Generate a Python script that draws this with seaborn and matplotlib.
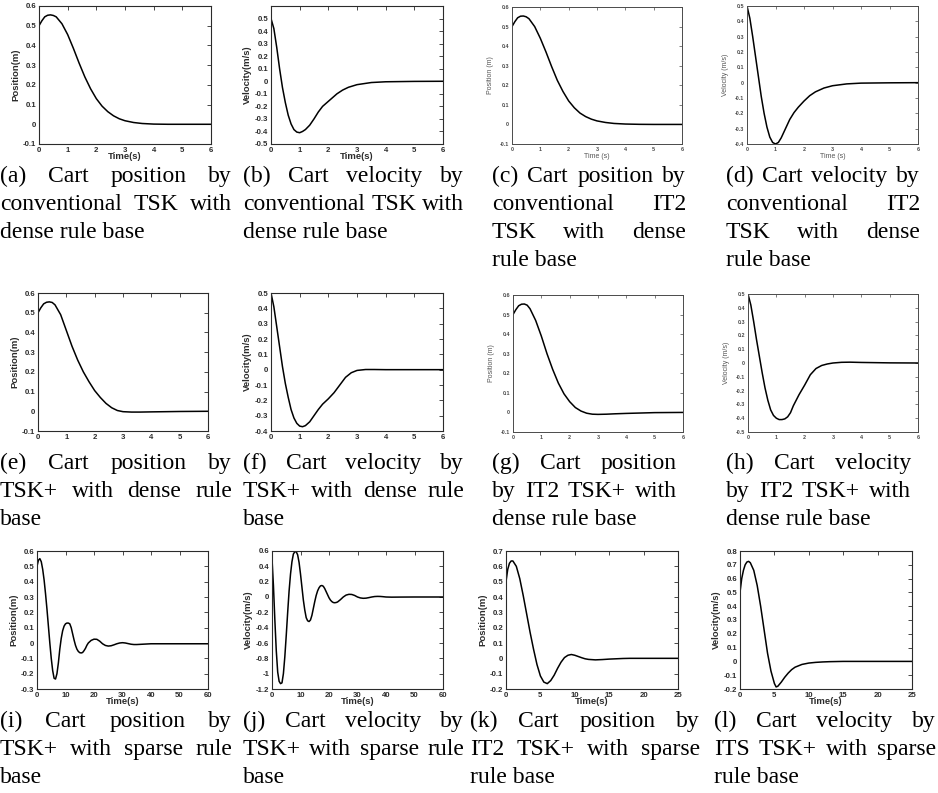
import numpy as np
import pandas as pd
import matplotlib
matplotlib.use("Agg")
import matplotlib.pyplot as plt
import seaborn as sns
from matplotlib.ticker import FuncFormatter, MultipleLocator, FixedLocator

sns.set_theme(style="white")
plt.rcParams['font.family'] = ['Liberation Sans', 'DejaVu Sans']

W, H = 938, 793

# ---------------- data ----------------
t_a = [0, 0.1, 0.2, 0.3, 0.4, 0.5, 0.6, 0.8, 1.0, 1.2, 1.4, 1.6, 1.8, 2.0, 2.2, 2.4, 2.6, 2.8, 3.0, 3.3, 3.6, 4.0, 4.5, 5, 6]
pos_a = [0.5, 0.525, 0.545, 0.553, 0.555, 0.552, 0.545, 0.51, 0.455, 0.385, 0.31, 0.24, 0.18, 0.13, 0.092, 0.064, 0.043, 0.028, 0.018, 0.009, 0.004, 0.001, 0, 0, 0]

t_b = [0, 0.1, 0.2, 0.3, 0.4, 0.5, 0.6, 0.7, 0.8, 0.9, 1.0, 1.1, 1.2, 1.35, 1.5, 1.65, 1.8, 1.95, 2.1, 2.3, 2.5, 2.7, 3.0, 3.5, 4, 5, 6]
vel_b = [0.5, 0.42, 0.27, 0.1, -0.05, -0.17, -0.27, -0.34, -0.385, -0.405, -0.41, -0.4, -0.385, -0.35, -0.3, -0.245, -0.2, -0.17, -0.14, -0.1, -0.07, -0.048, -0.027, -0.01, -0.004, -0.001, 0]

t_c = [0, 0.1, 0.2, 0.3, 0.4, 0.5, 0.6, 0.8, 1.0, 1.2, 1.4, 1.6, 1.8, 2.0, 2.2, 2.4, 2.6, 2.8, 3.0, 3.3, 3.6, 4.0, 4.5, 5, 6]
pos_c = [0.5, 0.525, 0.545, 0.553, 0.554, 0.55, 0.54, 0.5, 0.44, 0.37, 0.295, 0.225, 0.168, 0.12, 0.085, 0.058, 0.04, 0.027, 0.018, 0.01, 0.005, 0.002, 0.0005, 0, 0]

t_d = [0, 0.1, 0.2, 0.3, 0.4, 0.5, 0.6, 0.7, 0.8, 0.9, 1.0, 1.1, 1.2, 1.35, 1.5, 1.65, 1.8, 2.0, 2.2, 2.4, 2.7, 3.0, 3.5, 4, 5, 6]
vel_d = [0.5, 0.42, 0.3, 0.17, 0.04, -0.09, -0.2, -0.29, -0.355, -0.39, -0.4, -0.39, -0.36, -0.3, -0.24, -0.195, -0.16, -0.12, -0.085, -0.06, -0.035, -0.02, -0.008, -0.003, -0.001, 0]

t_e = [0, 0.1, 0.2, 0.3, 0.4, 0.5, 0.6, 0.8, 1.0, 1.2, 1.4, 1.6, 1.8, 2.0, 2.2, 2.4, 2.6, 2.8, 3.0, 3.3, 3.6, 4, 4.5, 5, 6]
pos_e = [0.5, 0.525, 0.545, 0.553, 0.555, 0.552, 0.54, 0.49, 0.41, 0.33, 0.26, 0.2, 0.15, 0.105, 0.07, 0.04, 0.018, 0.004, -0.002, -0.004, -0.004, -0.003, -0.002, -0.001, 0]

t_f = [0, 0.1, 0.2, 0.3, 0.4, 0.5, 0.6, 0.7, 0.8, 0.9, 1.0, 1.1, 1.2, 1.35, 1.5, 1.65, 1.8, 2.0, 2.2, 2.4, 2.6, 2.8, 3.0, 3.3, 3.6, 4, 5, 6]
vel_f = [0.5, 0.41, 0.28, 0.15, 0.02, -0.09, -0.18, -0.26, -0.315, -0.35, -0.368, -0.372, -0.365, -0.34, -0.3, -0.26, -0.225, -0.19, -0.15, -0.1, -0.05, -0.02, -0.005, 0.001, 0.001, 0, 0, 0]

t_g = [0, 0.1, 0.2, 0.3, 0.4, 0.5, 0.6, 0.8, 1.0, 1.2, 1.4, 1.6, 1.8, 2.0, 2.2, 2.4, 2.6, 2.8, 3.0, 3.3, 3.6, 4, 4.5, 5, 6]
pos_g = [0.5, 0.525, 0.545, 0.553, 0.554, 0.548, 0.53, 0.47, 0.39, 0.3, 0.22, 0.15, 0.095, 0.055, 0.025, 0.007, -0.004, -0.009, -0.01, -0.009, -0.007, -0.005, -0.003, -0.001, 0]

t_h = [0, 0.1, 0.2, 0.3, 0.4, 0.5, 0.6, 0.7, 0.8, 0.9, 1.0, 1.1, 1.2, 1.3, 1.4, 1.5, 1.6, 1.7, 1.8, 2.0, 2.2, 2.4, 2.6, 2.8, 3.0, 3.3, 3.6, 4, 5, 6]
vel_h = [0.5, 0.42, 0.3, 0.17, 0.05, -0.07, -0.18, -0.27, -0.34, -0.38, -0.4, -0.41, -0.41, -0.405, -0.39, -0.36, -0.31, -0.27, -0.23, -0.16, -0.085, -0.04, -0.018, -0.007, 0.0, 0.005, 0.006, 0.004, 0.001, 0]

t_i = [0, 0.5, 1, 1.5, 2, 2.5, 3, 3.5, 4, 4.5, 5, 5.5, 6, 6.5, 7, 7.5, 8, 8.5, 9, 9.5, 10, 10.5, 11, 11.5, 12, 12.5, 13, 13.5, 14, 14.5, 15, 15.5, 16, 16.5, 17, 17.5, 18, 19, 20, 21, 22, 23, 24, 25, 26, 27, 28, 29, 30, 31, 32, 33, 34, 35, 36, 38, 40, 45, 50, 55, 60]
pos_i = [0.5, 0.54, 0.55, 0.53, 0.48, 0.41, 0.32, 0.22, 0.11, 0.0, -0.1, -0.18, -0.23, -0.235, -0.2, -0.13, -0.04, 0.03, 0.08, 0.11, 0.125, 0.13, 0.13, 0.125, 0.1, 0.06, 0.02, -0.015, -0.04, -0.055, -0.063, -0.065, -0.062, -0.05, -0.035, -0.015, 0.0, 0.017, 0.025, 0.024, 0.012, -0.005, -0.016, -0.02, -0.018, -0.012, -0.005, 0.0, 0.002, 0.0, -0.004, -0.008, -0.01, -0.01, -0.009, -0.007, -0.005, -0.005, -0.005, -0.005, -0.005]

t_j = [0, 0.5, 1, 1.5, 2, 2.5, 3, 3.5, 4, 4.5, 5, 5.5, 6, 6.5, 7, 7.5, 8, 8.5, 9, 9.5, 10, 10.5, 11, 11.5, 12, 12.5, 13, 13.5, 14, 14.5, 15, 15.5, 16, 16.5, 17, 17.5, 18, 18.5, 19, 19.5, 20, 20.5, 21, 21.5, 22, 22.5, 23, 24, 25, 26, 27, 28, 29, 30, 31, 32, 33, 34, 35, 36, 37, 38, 39, 40, 42, 45, 50, 60]
vel_j = [0.5, 0.15, -0.3, -0.7, -0.98, -1.1, -1.13, -1.12, -1.0, -0.78, -0.5, -0.2, 0.08, 0.3, 0.46, 0.56, 0.59, 0.59, 0.55, 0.45, 0.3, 0.13, -0.04, -0.17, -0.27, -0.31, -0.32, -0.3, -0.24, -0.15, -0.06, 0.02, 0.08, 0.12, 0.145, 0.15, 0.14, 0.11, 0.07, 0.03, -0.01, -0.04, -0.06, -0.072, -0.075, -0.072, -0.065, -0.035, 0.0, 0.025, 0.035, 0.033, 0.02, 0.0, -0.012, -0.017, -0.015, -0.008, 0.0, 0.006, 0.008, 0.007, 0.004, 0.0, -0.002, -0.001, 0, 0]

t_k = [0, 0.25, 0.5, 0.75, 1, 1.5, 2, 2.5, 3, 3.5, 4, 4.5, 5, 5.5, 6, 6.5, 7, 7.5, 8, 8.5, 9, 9.5, 10, 10.5, 11, 11.5, 12, 13, 14, 15, 16, 17, 18, 20, 25]
pos_k = [0.5, 0.58, 0.62, 0.635, 0.635, 0.6, 0.52, 0.41, 0.29, 0.17, 0.06, -0.04, -0.115, -0.155, -0.165, -0.145, -0.11, -0.065, -0.025, 0.005, 0.02, 0.025, 0.02, 0.012, 0.004, -0.003, -0.007, -0.01, -0.008, -0.005, -0.003, -0.001, 0, 0, 0]

t_l = [0, 0.25, 0.5, 0.75, 1, 1.25, 1.5, 2, 2.5, 3, 3.5, 4, 4.5, 5, 5.25, 5.5, 6, 6.5, 7, 7.5, 8, 9, 10, 11, 12, 13, 15, 25]
vel_l = [0.5, 0.6, 0.66, 0.7, 0.72, 0.725, 0.715, 0.66, 0.55, 0.4, 0.23, 0.06, -0.07, -0.16, -0.185, -0.18, -0.15, -0.115, -0.085, -0.06, -0.042, -0.022, -0.012, -0.007, -0.004, -0.002, 0, 0]

pos_label = "Position(m)"
vel_label = "Velocity(m/s)"
pos_label_it2 = "Position (m)"
vel_label_it2 = "Velocity (m/s)"
time_label = "Time(s)"
time_label_it2 = "Time (s)"

captions = {
    'a': ["(a) Cart position by", "conventional TSK with", "dense rule base"],
    'b': ["(b) Cart velocity by", "conventional TSK with", "dense rule base"],
    'c': ["(c) Cart position by", "conventional IT2", "TSK with dense", "rule base"],
    'd': ["(d) Cart velocity by", "conventional IT2", "TSK with dense", "rule base"],
    'e': ["(e) Cart position by", "TSK+ with dense rule", "base"],
    'f': ["(f) Cart velocity by", "TSK+ with dense rule", "base"],
    'g': ["(g) Cart position", "by IT2 TSK+ with", "dense rule base"],
    'h': ["(h) Cart velocity", "by IT2 TSK+ with", "dense rule base"],
    'i': ["(i) Cart position by", "TSK+ with sparse rule", "base"],
    'j': ["(j) Cart velocity by", "TSK+ with sparse rule", "base"],
    'k': ["(k) Cart position by", "IT2 TSK+ with sparse", "rule base"],
    'l': ["(l) Cart velocity by", "ITS TSK+ with sparse", "rule base"],
}

# ---------------- layout ----------------
panels = [
    ('a', t_a, pos_a, (0, 6), 1, (-0.1, 0.6), (-0.1, 0.6, 0.1), pos_label, time_label, 'bold', (39, 6, 211, 144)),
    ('b', t_b, vel_b, (0, 6), 1, (-0.5, 0.6), (-0.5, 0.5, 0.1), vel_label, time_label, 'bold', (271, 6, 443, 144)),
    ('c', t_c, pos_c, (0, 6), 1, (-0.1, 0.6), (-0.1, 0.6, 0.1), pos_label_it2, time_label_it2, 'light', (512, 7, 682, 144)),
    ('d', t_d, vel_d, (0, 6), 1, (-0.4, 0.5), (-0.4, 0.5, 0.1), vel_label_it2, time_label_it2, 'light', (747, 6, 918, 144)),
    ('e', t_e, pos_e, (0, 6), 1, (-0.1, 0.6), (-0.1, 0.6, 0.1), pos_label, None, 'bold', (38, 293, 208, 431)),
    ('f', t_f, vel_f, (0, 6), 1, (-0.4, 0.5), (-0.4, 0.5, 0.1), vel_label, None, 'bold', (271, 293, 443, 431)),
    ('g', t_g, pos_g, (0, 6), 1, (-0.1, 0.6), (-0.1, 0.6, 0.1), pos_label_it2, None, 'light', (513, 295, 683, 432)),
    ('h', t_h, vel_h, (0, 6), 1, (-0.5, 0.5), (-0.5, 0.5, 0.1), vel_label_it2, None, 'light', (748, 294, 918, 432)),
    ('i', t_i, pos_i, (0, 60), 10, (-0.3, 0.6), (-0.3, 0.6, 0.1), pos_label, time_label, 'bold', (37, 551, 208, 689)),
    ('j', t_j, vel_j, (0, 60), 10, (-1.2, 0.6), (-1.2, 0.6, 0.2), vel_label, time_label, 'bold', (272, 551, 443, 689)),
    ('k', t_k, pos_k, (0, 25), 5, (-0.2, 0.7), (-0.2, 0.7, 0.1), pos_label, time_label, 'bold', (506, 551, 678, 689)),
    ('l', t_l, vel_l, (0, 25), 5, (-0.2, 0.8), (-0.2, 0.8, 0.1), vel_label, time_label, 'bold', (740, 551, 912, 689)),
]

caption_cols = {
    'a': (0, 232), 'b': (243, 221), 'c': (492, 194), 'd': (726, 194),
    'e': (0, 232), 'f': (243, 221), 'g': (492, 185), 'h': (726, 185),
    'i': (0, 232), 'j': (243, 221), 'k': (470, 230), 'l': (714, 222),
}
row_baselines = {
    'a': [182, 210, 238, 266], 'b': [182, 210, 238, 266], 'c': [182, 210, 238, 266], 'd': [182, 210, 238, 266],
    'e': [469, 497, 525], 'f': [469, 497, 525], 'g': [469, 497, 525], 'h': [469, 497, 525],
    'i': [727, 755, 783], 'j': [727, 755, 783], 'k': [727, 755, 783], 'l': [727, 755, 783],
}


def fmt(v, pos):
    v = round(v, 6)
    if abs(v) < 1e-9:
        return '0'
    return f'{v:g}'


fig = plt.figure(figsize=(W / 100, H / 100), dpi=100)
fig.patch.set_facecolor('white')

for key, t, y, xlim, xstep, ylim, yt, ylab, xlab, style, rect in panels:
    l, tp, r, b = rect
    ax = fig.add_axes([l / W, 1 - b / H, (r - l) / W, (b - tp) / H])
    df = pd.DataFrame({'t': t, 'v': y})
    sns.lineplot(data=df, x='t', y='v', ax=ax, color='black', linewidth=1.1)
    ax.set_xlim(*xlim)
    ax.set_ylim(*ylim)
    ax.xaxis.set_major_locator(MultipleLocator(xstep))
    lo, hi, st = yt
    n = int(round((hi - lo) / st)) + 1
    ax.yaxis.set_major_locator(FixedLocator([lo + k * st for k in range(n)]))
    ax.xaxis.set_major_formatter(FuncFormatter(fmt))
    ax.yaxis.set_major_formatter(FuncFormatter(fmt))
    ax.set_facecolor('white')
    if style == 'bold':
        col = '#2b2b2b'
        for s in ax.spines.values():
            s.set_visible(True)
            s.set_color(col)
            s.set_linewidth(0.8)
        ax.tick_params(direction='in', top=True, right=True, length=3, width=0.6,
                       color=col, labelsize=5.6, labelcolor=col, pad=2)
        for lab in ax.get_xticklabels() + ax.get_yticklabels():
            lab.set_fontweight('bold')
        ax.set_ylabel(ylab, fontsize=6.8, fontweight='bold', color=col, labelpad=2)
        if xlab:
            ax.set_xlabel(xlab, fontsize=6.8, fontweight='bold', color=col, labelpad=-1)
        else:
            ax.set_xlabel('')
    else:
        col = '#4a4a4a'
        for s in ax.spines.values():
            s.set_visible(True)
            s.set_color(col)
            s.set_linewidth(0.7)
        ax.tick_params(direction='in', top=True, right=True, length=2.5, width=0.5,
                       color=col, labelsize=3.9, labelcolor=col, pad=2)
        for lab in ax.get_xticklabels() + ax.get_yticklabels():
            lab.set_fontweight('bold')
        ax.set_ylabel(ylab, fontsize=5, color='#555555', labelpad=4)
        if xlab:
            ax.set_xlabel(xlab, fontsize=5, color='#555555', labelpad=1)
        else:
            ax.set_xlabel('')

# ---------------- captions (justified) ----------------
renderer = fig.canvas.get_renderer()
cap_font = dict(family=['Liberation Serif', 'DejaVu Serif'], size=17, color='black', va='baseline', ha='left')

for key, lines in captions.items():
    x0, width = caption_cols[key]
    bls = row_baselines[key]
    for k, line in enumerate(lines):
        yb = 1 - bls[k] / H
        words = line.split(' ')
        is_last = (k == len(lines) - 1) or len(words) == 1
        if is_last:
            fig.text(x0 / W, yb, line, **cap_font)
            continue
        texts = [fig.text(0, yb, w_, **cap_font) for w_ in words]
        widths = [tx.get_window_extent(renderer).width for tx in texts]
        gap = (width - sum(widths)) / (len(words) - 1)
        x = x0
        for tx, wd in zip(texts, widths):
            tx.set_position((x / W, yb))
            x += wd + gap

fig.savefig('out.png', dpi=100, facecolor='white')
